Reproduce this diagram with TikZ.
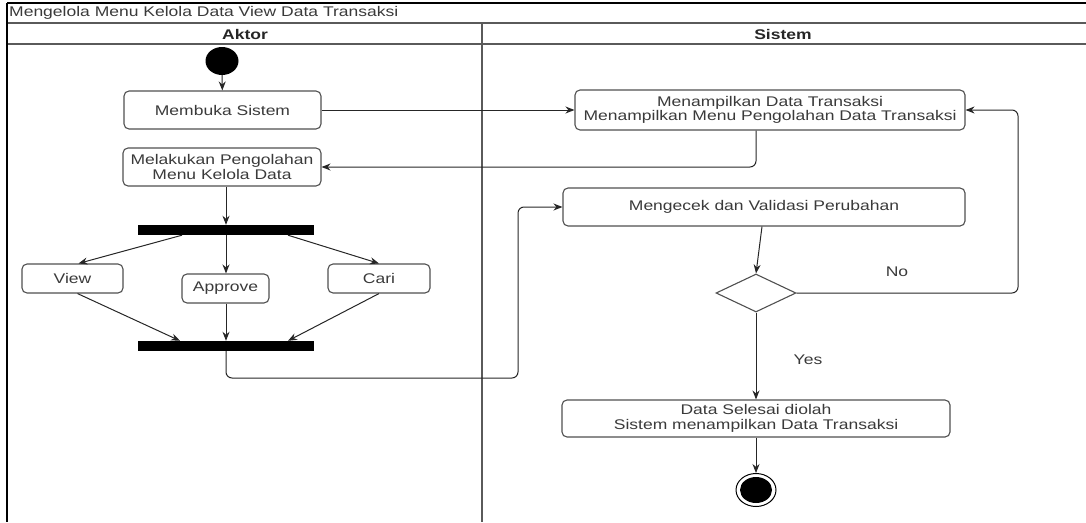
\documentclass[tikz,border=0pt]{standalone}
\usepackage{fontspec}
\setmainfont{Liberation Sans}[FakeStretch=1.25]
\usetikzlibrary{arrows.meta,shapes.geometric}
\definecolor{txt}{HTML}{3A3A3A}
\definecolor{bord}{HTML}{505050}
\definecolor{lane}{HTML}{5A5A5A}
\begin{document}
\begin{tikzpicture}[x=1pt,y=-1pt,
  every node/.style={font=\fontsize{14}{14.5}\selectfont, text=txt},
  act/.style={draw=bord, line width=1.1pt, rounded corners=5pt, fill=white, align=center, inner sep=1pt},
  bar/.style={fill=black, draw=none, minimum width=176, minimum height=10, inner sep=0pt},
  arr/.style={draw=black!85, line width=1pt, -{Stealth[length=9pt,width=7pt]}},
  lbl/.style={inner sep=0pt}
]
\useasboundingbox (0,0) rectangle (1086,522);
% frame and lanes
\draw[lane, line width=1.6pt] (7,23) -- (1086,23);
\draw[lane, line width=1.6pt] (7,44) -- (1086,44);
\draw[lane, line width=1.6pt] (482,23) -- (482,522);
\draw[black, line width=1.2pt] (7,3) -- (1086,3);
\draw[black, line width=2pt] (7,3) -- (7,522);
\node[lbl, anchor=west] (title) at (9,13) {Mengelola Menu Kelola Data View Data Transaksi};
\node[lbl, font=\fontsize{14}{14.5}\selectfont\bfseries, text=black!85] (aktor) at (245,34) {Aktor};
\node[lbl, font=\fontsize{14}{14.5}\selectfont\bfseries, text=black!85] (sistem) at (783,34) {Sistem};

% actor lane
\node[ellipse, fill=black, minimum width=33, minimum height=28, inner sep=0pt] (start) at (222,61) {};
\node[act, minimum width=197, minimum height=38] (membuka) at (222.5,110) {Membuka Sistem};
\node[act, minimum width=198, minimum height=38] (melakukan) at (222,167) {Melakukan Pengolahan\\Menu Kelola Data};
\node[bar] (fork) at (226,230) {};
\node[act, minimum width=101, minimum height=29] (view) at (72.5,278.5) {View};
\node[act, minimum width=87, minimum height=29] (approve) at (225.5,288.5) {Approve};
\node[act, minimum width=102, minimum height=29] (cari) at (379,278.5) {Cari};
\node[bar] (join) at (226,346) {};

% system lane
\node[act, minimum width=390, minimum height=40] (menampil) at (770,110) {Menampilkan Data Transaksi\\Menampilkan Menu Pengolahan Data Transaksi};
\node[act, minimum width=402, minimum height=38] (mengecek) at (764,207) {Mengecek dan Validasi Perubahan};
\node[diamond, draw=bord, line width=1.1pt, minimum width=80, minimum height=38, inner sep=0pt] (dec) at (756,293) {};
\node[act, minimum width=388, minimum height=37] (selesai) at (756,418.5) {Data Selesai diolah\\Sistem menampilkan Data Transaksi};
\node[ellipse, draw=black, line width=1pt, minimum width=40, minimum height=33, inner sep=0pt] (end) at (756,490) {};
\node[ellipse, fill=black, minimum width=32, minimum height=26, inner sep=0pt] (endin) at (756,490) {};

\coordinate (c1) at (518,378);
\coordinate (c2) at (1018,293);

% connectors
\draw[arr] (start) -- (membuka);
\draw[arr] (membuka.east) -- (menampil.west);
\draw[arr, rounded corners=6pt] ([xshift=-14]menampil.south) |- (melakukan.east);
\draw[arr] (melakukan.south -| fork.north) -- (fork.north);
\draw[arr] ([xshift=-44]fork.south) -- ([xshift=6]view.north);
\draw[arr] (fork.south) -- (fork.south |- approve.north);
\draw[arr] ([xshift=62]fork.south) -- (cari.north);
\draw[arr] ([xshift=5]view.south) -- ([xshift=-46]join.north);
\draw[arr] (approve.south -| join.north) -- (join.north);
\draw[arr] (cari.south) -- ([xshift=62]join.north);
\draw[arr, rounded corners=6pt] (join.south) |- (c1) |- (mengecek.west);
\draw[arr] ([xshift=-2]mengecek.south) -- (dec.north);
\draw[arr, rounded corners=6pt] (dec.east) -- (c2) |- (menampil.east);
\node[lbl] (no) at (897,272) {No};
\draw[arr] (dec.south) -- (selesai.north);
\node[lbl] (yes) at (808,360) {Yes};
\draw[arr] (selesai.south) -- (end.north);
\end{tikzpicture}
\end{document}
